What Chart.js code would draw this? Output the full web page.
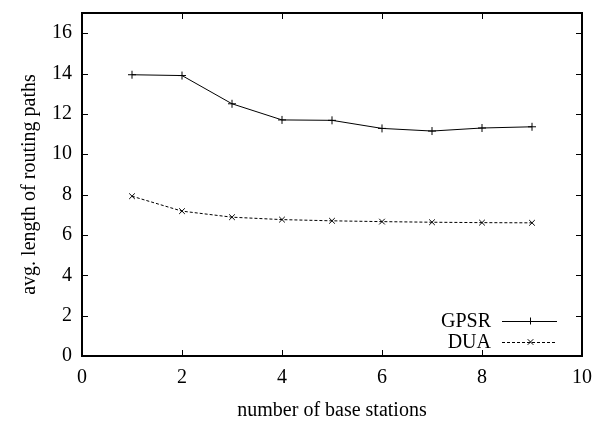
<!DOCTYPE html>
<html>
<head>
<meta charset="utf-8">
<script src="https://cdn.jsdelivr.net/npm/chart.js@4"></script>
<style>
  html, body { margin: 0; padding: 0; background: #fff; }
  #wrap { width: 597px; height: 423px; }
</style>
</head>
<body>
<div id="wrap"><canvas id="c"></canvas></div>
<script>
const stations = [1, 2, 3, 4, 5, 6, 7, 8, 9];
const gpsr = [13.94, 13.9, 12.5, 11.7, 11.68, 11.28, 11.15, 11.3, 11.36];
const dua = [7.92, 7.18, 6.88, 6.76, 6.7, 6.66, 6.63, 6.61, 6.6];
const xTicks = [0, 2, 4, 6, 8, 10];
const yTicks = [0, 2, 4, 6, 8, 10, 12, 14, 16];

const font = 'Liberation Serif';

// gnuplot-like frame with inward ticks on all four sides
const framePlugin = {
  id: 'frame',
  afterDatasetsDraw(chart) {
    const ctx = chart.ctx, a = chart.chartArea;
    const xs = chart.scales.x, ys = chart.scales.y;
    ctx.save();
    ctx.strokeStyle = '#000';
    ctx.lineWidth = 1;
    ctx.beginPath();
    xTicks.forEach(v => {
      const px = Math.round(xs.getPixelForValue(v)) + 0.5;
      ctx.moveTo(px, a.bottom); ctx.lineTo(px, a.bottom - 6);
      ctx.moveTo(px, a.top); ctx.lineTo(px, a.top + 6);
    });
    yTicks.forEach(v => {
      const py = Math.round(ys.getPixelForValue(v)) + 0.5;
      ctx.moveTo(a.left, py); ctx.lineTo(a.left + 6, py);
      ctx.moveTo(a.right, py); ctx.lineTo(a.right - 6, py);
    });
    ctx.stroke();
    ctx.lineWidth = 2;
    ctx.strokeRect(Math.round(a.left), Math.round(a.top),
                   Math.round(a.right - a.left), Math.round(a.bottom - a.top));
    ctx.restore();
  }
};

// key in the bottom-right corner, text on the left, sample on the right
const keyPlugin = {
  id: 'key',
  afterDatasetsDraw(chart) {
    const ctx = chart.ctx, a = chart.chartArea;
    ctx.save();
    ctx.font = '20px "' + font + '"';
    ctx.textAlign = 'right';
    ctx.textBaseline = 'middle';
    chart.data.datasets.forEach((ds, i) => {
      const y = a.bottom - 35 + i * 21;
      const x1 = a.right - 80, x2 = a.right - 25;
      ctx.fillStyle = '#000';
      ctx.fillText(ds.label, x1 - 11, y + 1);
      ctx.strokeStyle = ds.borderColor;
      ctx.lineWidth = 1;
      ctx.setLineDash(ds.borderDash || []);
      ctx.beginPath();
      ctx.moveTo(x1, y + 0.5); ctx.lineTo(x2, y + 0.5);
      ctx.stroke();
      ctx.setLineDash([]);
      const mx = Math.round((x1 + x2) / 2) + 0.5, r = 3.5;
      ctx.beginPath();
      if (ds.pointStyle === 'cross') {
        ctx.moveTo(mx - r, y + 0.5); ctx.lineTo(mx + r, y + 0.5);
        ctx.moveTo(mx, y - r); ctx.lineTo(mx, y + r);
      } else {
        ctx.moveTo(mx - r * 0.8, y - r * 0.8); ctx.lineTo(mx + r * 0.8, y + r * 0.8);
        ctx.moveTo(mx - r * 0.8, y + r * 0.8); ctx.lineTo(mx + r * 0.8, y - r * 0.8);
      }
      ctx.stroke();
    });
    ctx.restore();
  }
};

new Chart(document.getElementById('c'), {
  type: 'line',
  data: {
    labels: stations,
    datasets: [{
      label: 'GPSR',
      data: stations.map((x, i) => ({x: x, y: gpsr[i]})),
      borderColor: '#000',
      backgroundColor: '#000',
      borderWidth: 1,
      pointStyle: 'cross',
      pointRadius: 4,
      pointBorderWidth: 1,
      fill: false,
      tension: 0
    }, {
      label: 'DUA',
      data: stations.map((x, i) => ({x: x, y: dua[i]})),
      borderColor: '#000',
      backgroundColor: '#000',
      borderWidth: 1,
      borderDash: [3, 2],
      pointStyle: 'crossRot',
      pointRadius: 4,
      pointBorderWidth: 1,
      fill: false,
      tension: 0
    }]
  },
  options: {
    responsive: true,
    maintainAspectRatio: false,
    animation: false,
    layout: {autoPadding: false, padding: {top: 13, right: 15, left: 0, bottom: 0}},
    plugins: {legend: {display: false}, tooltip: {enabled: false}},
    scales: {
      x: {
        type: 'linear',
        min: 0, max: 10,
        afterBuildTicks: s => { s.ticks = xTicks.map(v => ({value: v})); },
        afterFit: s => { s.height = 67; s.paddingLeft = 0; s.paddingRight = 0; },
        grid: {display: false, drawTicks: false},
        border: {display: false},
        ticks: {color: '#000', padding: 10, maxRotation: 0, font: {family: font, size: 20}},
        title: {display: true, text: 'number of base stations', color: '#000',
                font: {family: font, size: 20}, padding: {top: 0, bottom: 0}}
      },
      y: {
        min: 0, max: 17,
        afterBuildTicks: s => { s.ticks = yTicks.map(v => ({value: v})); },
        afterFit: s => { s.width = 82; s.paddingTop = 0; s.paddingBottom = 0; },
        grid: {display: false, drawTicks: false},
        border: {display: false},
        ticks: {color: '#000', padding: 10, font: {family: font, size: 20}},
        title: {display: true, text: 'avg. length of routing paths', color: '#000',
                font: {family: font, size: 20}, padding: {top: 18, bottom: 0}}
      }
    }
  },
  plugins: [framePlugin, keyPlugin]
});
</script>
</body>
</html>
